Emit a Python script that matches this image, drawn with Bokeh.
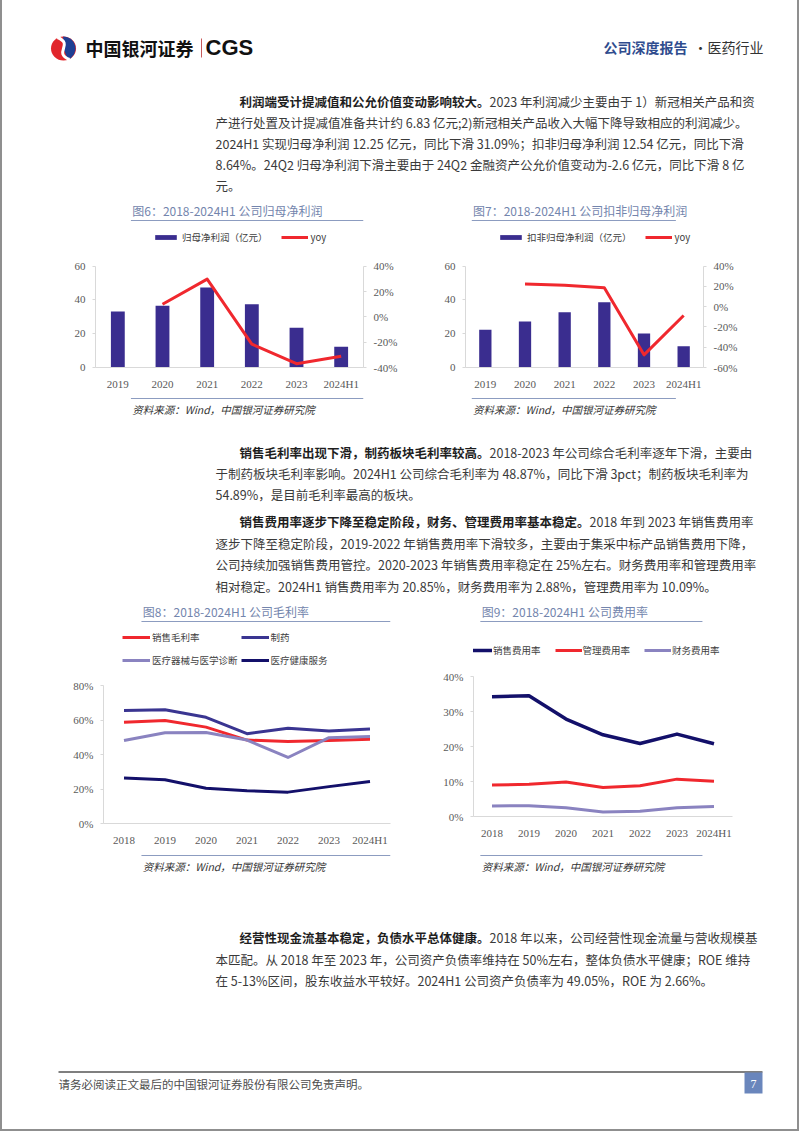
import math
from bokeh.plotting import figure
from bokeh.models import (Range1d, FactorRange, LinearAxis, Legend, LegendItem,
                          PrintfTickFormatter, FixedTicker, ColumnDataSource)
from bokeh.layouts import column, row
from bokeh.embed import file_html
from bokeh.resources import INLINE
from bokeh.core.properties import value

# ---------------- data ----------------
years_a = ["2019", "2020", "2021", "2022", "2023", "2024H1"]
np_parent = [33.2, 36.6, 47.4, 37.4, 23.6, 12.25]
np_parent_yoy = [float("nan"), 10.0, 29.8, -21.5, -37.0, -31.09]
np_deducted = [22.3, 27.2, 32.8, 38.6, 20.1, 12.54]
np_deducted_yoy = [float("nan"), 22.5, 21.2, 18.7, -47.5, -8.64]

years_b = ["2018", "2019", "2020", "2021", "2022", "2023", "2024H1"]
gm_total = [58.7, 59.7, 55.9, 48.4, 47.5, 48.2, 48.87]
gm_pharma = [65.5, 66.0, 61.6, 52.1, 55.3, 53.6, 54.89]
gm_device = [48.2, 52.7, 52.8, 48.4, 38.3, 49.8, 50.4]
gm_health = [26.4, 25.4, 20.5, 19.0, 18.2, 21.4, 24.3]

exp_sales = [34.3, 34.6, 27.9, 23.4, 20.9, 23.6, 20.85]
exp_admin = [9.0, 9.2, 9.9, 8.3, 8.8, 10.7, 10.09]
exp_fin = [3.0, 3.1, 2.5, 1.3, 1.5, 2.5, 2.88]

ticks_a_left = [0, 20, 40, 60]
ticks_6_right = [-40, -20, 0, 20, 40]
ticks_7_right = [-60, -40, -20, 0, 20, 40]
ticks_8 = [0, 20, 40, 60, 80]
ticks_9 = [0, 10, 20, 30, 40]

# ---------------- style ----------------
FONT = "Noto Sans CJK SC"
SERIF = "Liberation Serif"
BODY = "#3a3a3a"
TITLE_C = "#7385ad"
SEP_C = "#8c9cc0"
BAR_C = "#3a2d8f"
RED = "#f0282e"
INDIGO = "#3a3591"
LAV = "#8a83c0"
NAVY = "#13106a"
AX = "#d9d9d9"
TICK_TXT = "#595959"
FS = 12.5  # body font px
X0, XM, X1 = 2, 418, 797  # page content left, column split, right


def canvas(x0, x1, y0, y1):
    p = figure(width=x1 - x0, height=y1 - y0, x_range=Range1d(x0, x1),
               y_range=Range1d(y1, y0), output_backend="svg",
               toolbar_location=None, min_border=0,
               x_axis_location=None, y_axis_location=None)
    p.grid.grid_line_color = None
    p.outline_line_color = None
    return p


def put(p, x, y, s, size, color=BODY, style="normal", font=FONT, align="left"):
    p.text(x=[x], y=[y], text=[s], text_font=value(font), text_font_size=size,
           text_color=color, text_font_style=style, text_baseline="middle",
           text_align=align)


def hline(p, x0, x1, y, color=SEP_C, w=1.2):
    p.line(x=[x0, x1], y=[y, y], line_color=color, line_width=w)


def para(p, x_first, x_rest, y0, dy, bold, lines):
    put(p, x_first, y0, bold, "%spx" % FS, color="#1e1e1e", style="bold")
    put(p, x_first + len(bold) * FS, y0, lines[0], "%spx" % FS)
    for i, s in enumerate(lines[1:]):
        put(p, x_rest, y0 + dy * (i + 1), s, "%spx" % FS)


def style_axis(ax, tick_out=4, standoff=7):
    ax.axis_line_color = AX
    ax.major_tick_line_color = AX
    ax.major_tick_out = tick_out
    ax.major_tick_in = 0
    ax.minor_tick_line_color = None
    ax.major_label_text_font = SERIF
    ax.major_label_text_font_size = "11px"
    ax.major_label_text_color = TICK_TXT
    ax.major_label_standoff = standoff


def ext_range(lo, hi, data_px, frame_px):
    # frame is taller than the data area (legend sits in the top part)
    return Range1d(lo, lo + (hi - lo) * frame_px / data_px)


def base_fig(width, height, cats, yr, ml, mr, mt, mb):
    p = figure(width=width, height=height, x_range=FactorRange(*cats),
               y_range=yr, output_backend="svg", toolbar_location=None,
               min_border_left=ml, min_border_right=mr, min_border_top=mt,
               min_border_bottom=mb)
    p.grid.grid_line_color = None
    p.outline_line_color = None
    xa = p.xaxis[0]
    style_axis(xa, tick_out=0, standoff=10)
    xa.major_tick_line_color = None
    return p


def legend(items, loc, gw, gh, lh, standoff, spacing, ncols=None):
    kw = dict(items=items, location=loc, orientation="horizontal",
              glyph_width=gw, glyph_height=gh, label_height=lh,
              label_standoff=standoff, spacing=spacing, padding=0, margin=0,
              border_line_color=None, background_fill_alpha=0,
              label_text_font=FONT, label_text_font_size="9.5px",
              label_text_color="#404040")
    if ncols:
        kw["ncols"] = ncols
    return Legend(**kw)


def source_block(x0, x1, y0, y1, sep_x0, sep_x1, sep_y):
    s = canvas(x0, x1, y0, y1)
    hline(s, sep_x0, sep_x1, sep_y)
    put(s, sep_x0 + 2, sep_y + 11, "资料来源：Wind，中国银河证券研究院", "10.5px",
        color="#333333", style="italic")
    return s


def bar_chart(width, cats, vals, yoy, label, right_rng, right_ticks, ml, mr, lx):
    src = ColumnDataSource(dict(year=cats, val=vals, yoy=yoy))
    # frame 226..368 (142 px); data area 266..368 (102 px)
    p = base_fig(width, 166, cats, ext_range(0, 60, 102, 142), ml, mr, 0, 24)
    p.extra_y_ranges = {"yoy": ext_range(right_rng[0], right_rng[1], 102, 142)}
    ya = p.yaxis[0]
    ya.ticker = FixedTicker(ticks=ticks_a_left)
    ya.bounds = (0, 60)
    style_axis(ya, tick_out=3, standoff=7)
    b = p.vbar(x="year", top="val", width=0.31, source=src,
               fill_color=BAR_C, line_color=None)
    l = p.line(x="year", y="yoy", source=src, y_range_name="yoy",
               line_color=RED, line_width=3, line_join="round")
    ra = LinearAxis(y_range_name="yoy", ticker=FixedTicker(ticks=right_ticks),
                    formatter=PrintfTickFormatter(format="%d%%"),
                    bounds=tuple(right_rng))
    style_axis(ra, tick_out=3, standoff=7)
    p.add_layout(ra, "right")
    p.add_layout(legend([LegendItem(label=label, renderers=[b]),
                         LegendItem(label="yoy", renderers=[l])],
                        (lx, 123), 27, 6, 12, 3, 13))
    return p


# ---------------- band 1: header + paragraph 1 ----------------
b1 = canvas(X0, X1, 0, 200)
b1.ellipse(x=[63], y=[48], width=[25], height=[24], fill_color="#e1262c", line_color=None)
b1.wedge(x=[63], y=[48], radius=12, start_angle=-1.2, end_angle=1.6,
         fill_color="#1f3f93", line_color=None)
b1.bezier(x0=[57], y0=[37], x1=[69], y1=[59], cx0=[74], cy0=[44], cx1=[52], cy1=[52],
          line_color="white", line_width=3)
put(b1, 85, 47, "中国银河证券", "18px", color="#111111", style="bold")
b1.line(x=[201, 201], y=[38, 57], line_color="#c85a5a", line_width=1)
put(b1, 205, 47, "CGS", "22px", color="#111111", style="bold", font="Liberation Sans")
put(b1, 603, 46, "公司深度报告", "14px", color="#2f4c8e", style="bold")
put(b1, 693, 46, "·", "14px", color="#333333")
put(b1, 707, 46, "医药行业", "14px", color="#333333")
para(b1, 239, 215, 101, 21,
     "利润端受计提减值和公允价值变动影响较大。",
     ["2023 年利润减少主要由于 1）新冠相关产品和资",
      "产进行处置及计提减值准备共计约 6.83 亿元;2)新冠相关产品收入大幅下降导致相应的利润减少。",
      "2024H1 实现归母净利润 12.25 亿元，同比下滑 31.09%；扣非归母净利润 12.54 亿元，同比下滑",
      "8.64%。24Q2 归母净利润下滑主要由于 24Q2 金融资产公允价值变动为-2.6 亿元，同比下滑 8 亿",
      "元。"])

# ---------------- band 2: fig 6 & 7 ----------------
t6 = canvas(X0, XM, 200, 226)
put(t6, 59, 210, "图6：2018-2024H1 公司归母净利润", "12px", color=TITLE_C)
hline(t6, 57, XM, 220)
c6 = bar_chart(XM - X0, years_a, np_parent, np_parent_yoy, "归母净利润（亿元）",
               (-40, 40), ticks_6_right, 95 - X0, XM - 363, 57)
s6 = source_block(X0, XM, 392, 420, 57, XM, 398)

t7 = canvas(XM, X1, 200, 226)
put(t7, 430, 210, "图7：2018-2024H1 公司扣非归母净利润", "12px", color=TITLE_C)
hline(t7, 428, 753, 220)
c7 = bar_chart(X1 - XM, years_a, np_deducted, np_deducted_yoy, "扣非归母净利润（亿元）",
               (-60, 40), ticks_7_right, 465 - XM, X1 - 703, 32)
s7 = source_block(XM, X1, 392, 420, 428, 753, 398)

band2 = row(column(t6, c6, s6), column(t7, c7, s7))

# ---------------- band 3: paragraphs 2, 3 ----------------
b3 = canvas(X0, X1, 420, 600)
para(b3, 239, 215, 452, 21,
     "销售毛利率出现下滑，制药板块毛利率较高。",
     ["2018-2023 年公司综合毛利率逐年下滑，主要由",
      "于制药板块毛利率影响。2024H1 公司综合毛利率为 48.87%，同比下滑 3pct；制药板块毛利率为",
      "54.89%，是目前毛利率最高的板块。"])
para(b3, 239, 215, 521, 21.7,
     "销售费用率逐步下降至稳定阶段，财务、管理费用率基本稳定。",
     ["2018 年到 2023 年销售费用率",
      "逐步下降至稳定阶段，2019-2022 年销售费用率下滑较多，主要由于集采中标产品销售费用下降，",
      "公司持续加强销售费用管控。2020-2023 年销售费用率稳定在 25%左右。财务费用率和管理费用率",
      "相对稳定。2024H1 销售费用率为 20.85%，财务费用率为 2.88%，管理费用率为 10.09%。"])

# ---------------- band 4: fig 8 & 9 ----------------
t8 = canvas(X0, XM, 600, 626)
put(t8, 59, 611, "图8：2018-2024H1 公司毛利率", "12px", color=TITLE_C)
hline(t8, 57, XM, 621)
src8 = ColumnDataSource(dict(year=years_b, total=gm_total, pharma=gm_pharma,
                             device=gm_device, health=gm_health))
# frame 626..825 (199 px); data area 686..825 (139.3 px)
c8 = base_fig(XM - X0, 222, years_b, ext_range(0, 80, 139.3, 199), 103 - X0, XM - 390, 0, 23)
ya8 = c8.yaxis[0]
ya8.ticker = FixedTicker(ticks=ticks_8)
ya8.bounds = (0, 80)
ya8.formatter = PrintfTickFormatter(format="%d%%")
style_axis(ya8, tick_out=3, standoff=7)
r_tot = c8.line("year", "total", source=src8, line_color=RED, line_width=3, line_join="round")
r_ph = c8.line("year", "pharma", source=src8, line_color=INDIGO, line_width=3, line_join="round")
r_dev = c8.line("year", "device", source=src8, line_color=LAV, line_width=3, line_join="round")
r_hs = c8.line("year", "health", source=src8, line_color=NAVY, line_width=3, line_join="round")
c8.add_layout(legend([LegendItem(label="销售毛利率", renderers=[r_tot]),
                      LegendItem(label="制药", renderers=[r_ph]),
                      LegendItem(label="医疗器械与医学诊断", renderers=[r_dev]),
                      LegendItem(label="医疗健康服务", renderers=[r_hs])],
                     (19, 153), 28, 20, 20, 2, 3, ncols=2))
s8 = source_block(X0, XM, 848, 875, 57, XM, 855)

t9 = canvas(XM, X1, 600, 626)
put(t9, 430, 611, "图9：2018-2024H1 公司费用率", "12px", color=TITLE_C)
hline(t9, 428, 753, 621)
src9 = ColumnDataSource(dict(year=years_b, sales=exp_sales, admin=exp_admin, fin=exp_fin))
# frame 626..816 (190 px); data area 676..816 (139.7 px)
c9 = base_fig(X1 - XM, 222, years_b, ext_range(0, 40, 139.7, 190), 473 - XM, X1 - 732, 0, 32)
ya9 = c9.yaxis[0]
ya9.ticker = FixedTicker(ticks=ticks_9)
ya9.bounds = (0, 40)
ya9.formatter = PrintfTickFormatter(format="%d%%")
style_axis(ya9, tick_out=3, standoff=7)
r_s = c9.line("year", "sales", source=src9, line_color=NAVY, line_width=3.5, line_join="round")
r_a = c9.line("year", "admin", source=src9, line_color=RED, line_width=3, line_join="round")
r_f = c9.line("year", "fin", source=src9, line_color=LAV, line_width=3, line_join="round")
c9.add_layout(legend([LegendItem(label="销售费用率", renderers=[r_s]),
                      LegendItem(label="管理费用率", renderers=[r_a]),
                      LegendItem(label="财务费用率", renderers=[r_f])],
                     (-8, 156), 27, 20, 20, 1, 14))
s9 = source_block(XM, X1, 848, 875, 428, 753, 855)

band4 = row(column(t8, c8, s8), column(t9, c9, s9))

# ---------------- band 5: paragraph 4 + footer ----------------
b5 = canvas(X0, X1, 875, 1129)
para(b5, 239, 215, 937, 21.5,
     "经营性现金流基本稳定，负债水平总体健康。",
     ["2018 年以来，公司经营性现金流量与营收规模基",
      "本匹配。从 2018 年至 2023 年，公司资产负债率维持在 50%左右，整体负债水平健康；ROE 维持",
      "在 5-13%区间，股东收益水平较好。2024H1 公司资产负债率为 49.05%，ROE 为 2.66%。"])
hline(b5, 58, 762, 1071.5, color="#555555", w=1.5)
put(b5, 58, 1083, "请务必阅读正文最后的中国银河证券股份有限公司免责声明。", "11.5px", color="#4d4d4d")
b5.quad(left=[744], right=[762], top=[1072], bottom=[1093], fill_color="#6a86bc", line_color=None)
put(b5, 753, 1083, "7", "12px", color="white", font=SERIF, align="center")

page = column(b1, band2, b3, band4, b5,
              styles={"border-left": "2px solid #8f8f8f",
                      "border-right": "2px solid #8f8f8f",
                      "border-bottom": "2px solid #8f8f8f"})
open("out.html", "w").write(file_html(page, INLINE))
